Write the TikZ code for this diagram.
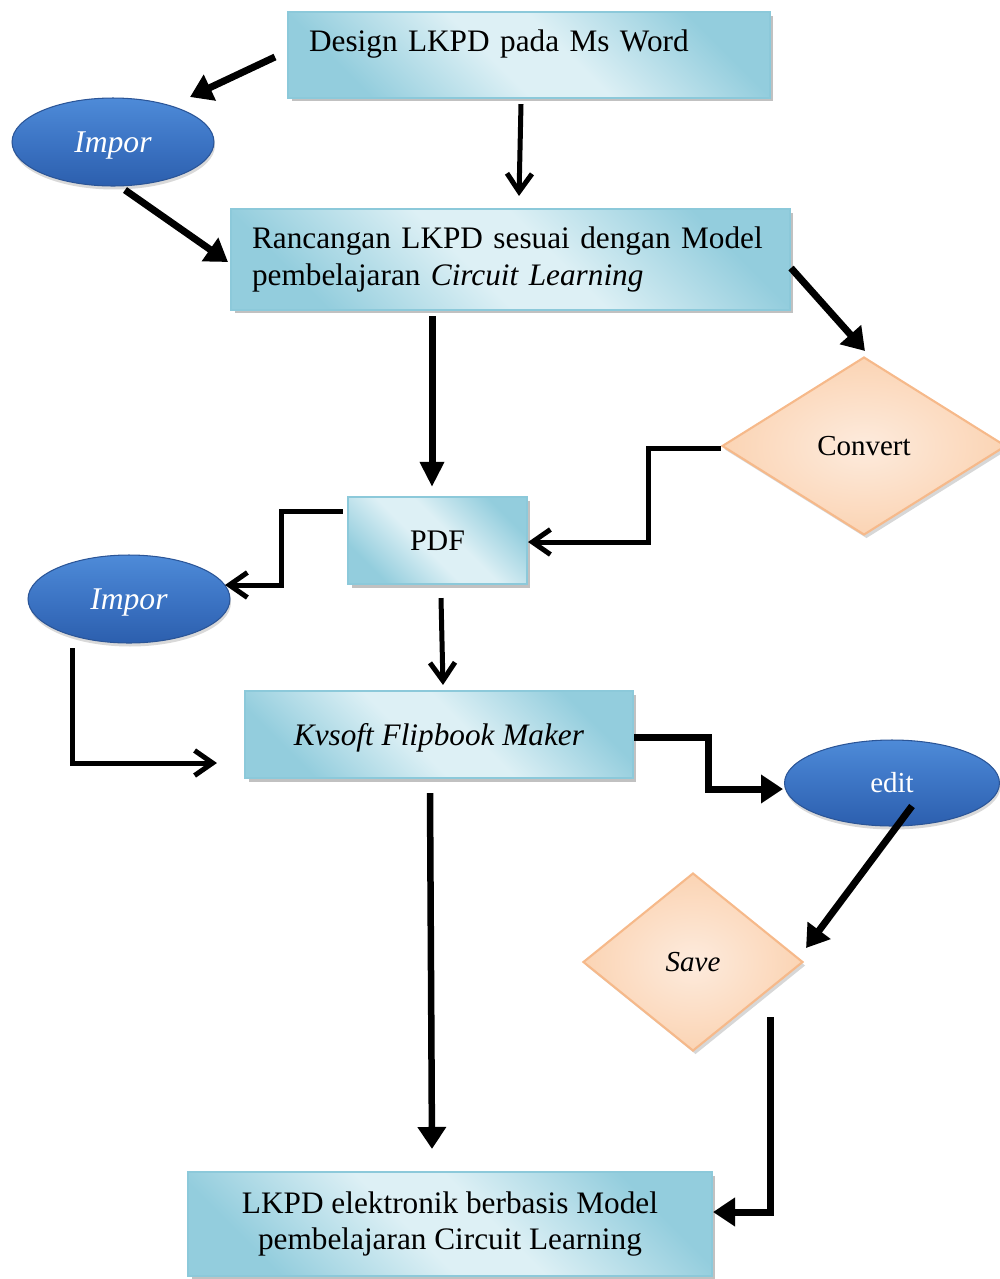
\documentclass[tikz,border=0pt]{standalone}
\usepackage{fontspec}
\setmainfont{Liberation Serif}
\usetikzlibrary{shapes.geometric,arrows.meta,calc,shadows}
\definecolor{bdark}{HTML}{93CDDD}
\definecolor{blight}{HTML}{DDF0F5}
\definecolor{bborder}{HTML}{8CC9DA}
\definecolor{etop}{HTML}{4E8BD8}
\definecolor{emid}{HTML}{3C74C4}
\definecolor{ebot}{HTML}{2C5FAE}
\definecolor{eborder}{HTML}{2B5597}
\definecolor{dfill}{HTML}{FBD4B4}
\definecolor{dlight}{HTML}{FDEBDD}
\definecolor{dborder}{HTML}{F6B98A}
\pgfdeclarehorizontalshading{boxshade}{100bp}{color(0bp)=(bdark); color(25bp)=(bdark); color(45bp)=(blight); color(55bp)=(blight); color(75bp)=(bdark); color(100bp)=(bdark)}
\tikzset{
  box/.style={rectangle, draw=bborder, line width=1.2pt, shading=boxshade, shading angle=45,
    drop shadow={shadow xshift=0.07cm, shadow yshift=-0.07cm, fill=gray!60, opacity=0.8},
    font=\fontsize{17.8}{21}\selectfont, inner sep=0pt},
  oval/.style={ellipse, draw=eborder, line width=0.6pt, top color=etop, bottom color=ebot, middle color=emid,
    text=white, inner sep=0pt, font=\fontsize{18}{21}\selectfont,
    drop shadow={shadow xshift=0.02cm, shadow yshift=-0.07cm, fill=gray!50, opacity=0.6}},
  dia/.style={diamond, draw=dborder, line width=1.2pt, inner color=dlight, outer color=dfill, inner sep=0pt,
    font=\fontsize{16.5}{20}\selectfont,
    drop shadow={shadow xshift=0.05cm, shadow yshift=-0.07cm, fill=gray!45, opacity=0.7}},
  fa/.style={line width=#1, -{Triangle[length=0.44cm, width=0.55cm]}},
  va/.style={line width=#1, -{Straight Barb[length=0.36cm, width=0.5cm]}, line join=miter},
}
\begin{document}
\begin{tikzpicture}[x=0.02cm, y=-0.02cm]
\useasboundingbox (0,0) rectangle (1000,1279);

% boxes
\node[box, minimum width=9.64cm, minimum height=1.72cm, text width=8.8cm, align=left, text depth=0.57cm]
  (design) at (529,55) {Design LKPD pada Ms Word};
\node[box, minimum width=11.18cm, minimum height=2.02cm, text width=10.34cm, align=left]
  (ranc) at (510.5,259.5) {Rancangan LKPD sesuai dengan Model\\ pembelajaran \textit{Circuit Learning}};
\node[box, minimum width=3.58cm, minimum height=1.74cm, font=\fontsize{17}{20}\selectfont]
  (pdf) at (437.5,540.5) {PDF};
\node[box, minimum width=7.76cm, minimum height=1.74cm, text depth=0pt]
  (kv) at (439,734.5) {\textit{Kvsoft Flipbook Maker}};
\node[box, minimum width=10.48cm, minimum height=2.08cm, align=center]
  (lkpd) at (450,1224) {LKPD elektronik berbasis Model\\ pembelajaran Circuit Learning};

% ellipses
\node[oval, minimum width=4.04cm, minimum height=1.76cm, text depth=0pt] (imp1) at (113,142) {\textit{Impor}};
\node[oval, minimum width=4.04cm, minimum height=1.76cm, text depth=0pt] (imp2) at (129,599) {\textit{Impor}};
\node[oval, minimum width=4.3cm, minimum height=1.72cm, font=\fontsize{16.5}{20}\selectfont] (edit) at (892,783) {edit};

% diamonds
\node[dia, minimum width=5.68cm, minimum height=3.56cm] (conv) at (864,446) {Convert};
\node[dia, minimum width=4.4cm, minimum height=3.56cm] (save) at (693,962) {\textit{Save}};

% connectors
\draw[fa=0.14cm] ($(design.west)+(-12,2)$) -- ($(imp1.center)+(77,-45)$);
\draw[va=0.1cm] ($(design.south)+(-8,5)$) -- ($(ranc.north)+(8.5,-12)$);
\draw[fa=0.14cm] ($(imp1.center)+(12,48)$) -- ($(ranc.west)+(-2,2.5)$);
\draw[line width=0.14cm, -{Triangle[length=0.5cm, width=0.46cm]}] ($(ranc.south)+(-78.5,5)$) -- ($(pdf.north)+(-5.5,-9)$);
\draw[fa=0.14cm] ($(ranc.east)+(0,8.5)$) -- ($(conv.north)+(1,-5)$);
\draw[va=0.1cm] ($(conv.west)+(0,2)$) -- ++(-72,0) |- ($(pdf.east)+(0,1.5)$);
\draw[va=0.1cm] ($(pdf.west)+(-4,-29.5)$) -- ++(-61,0) |- ($(imp2.center)+(96,-14)$);
\draw[va=0.1cm] ($(pdf.south)+(3.5,13)$) -- ($(kv.north)+(4,-5)$);
\draw[va=0.1cm] ($(imp2.center)+(-57,49)$) |- ($(kv.west)+(-27,28.5)$);
\draw[fa=0.14cm] ($(kv.east)+(0,2.5)$) -- ++(74,0) |- ($(edit.west)+(-1,6)$);
\draw[fa=0.14cm] ($(edit.center)+(20,23)$) -- ($(save.east)+(2,-14)$);
\draw[fa=0.13cm] ($(kv.south)+(-9,14)$) -- ($(lkpd.north)+(-18,-22)$);
\draw[fa=0.14cm] ($(save.center)+(77,55)$) |- ($(lkpd.east)+(0,-12)$);
\end{tikzpicture}
\end{document}
